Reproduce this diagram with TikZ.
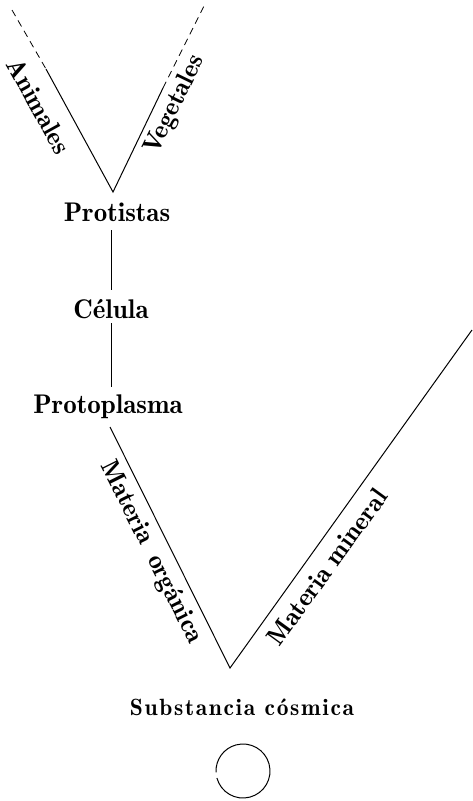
\documentclass[tikz,border=0pt]{standalone}
\usepackage{fontspec}
\newfontfamily\demi{lmromandemi10-regular}[Extension=.otf]
\newfontfamily\demils{lmromandemi10-regular}[Extension=.otf,LetterSpace=7]
\begin{document}
\begin{tikzpicture}[x=1pt,y=1pt,
  lbl/.style={font=\demi\fontsize{27}{30}\selectfont, inner sep=0pt, outer sep=0pt},
  rlbl/.style={font=\demi\fontsize{26}{30}\selectfont, inner sep=0pt},
  arm/.style={line width=1pt},
  farm/.style={line width=0.8pt, dash pattern=on 7pt off 5pt}]
\useasboundingbox (0,0) rectangle (472,-801);
% named points
\coordinate (a0) at (12,-10);
\coordinate (a1) at (46,-69);
\coordinate (b0) at (204,-6);
\coordinate (b1) at (163,-88);
\coordinate (v1) at (113,-192);
\coordinate (m0) at (110,-427);
\coordinate (v2) at (230,-668);
\coordinate (m1) at (472,-330);
\coordinate (c0) at (243,-771);
% main labels
\node[lbl, anchor=base] (prot) at (117,-221) {Protistas};
\node[lbl, anchor=base] (cel) at (111,-318) {Célula};
\node[lbl, anchor=base] (proto) at (108,-413) {Protoplasma};
\node[inner sep=0pt, anchor=base, font=\demils\fontsize{23.5}{28}\selectfont] (subs) at (242,-715) {Substancia cósmica};
% rotated labels
\node[rlbl, rotate=-61] (anim) at (39,-106) {Animales};
\node[rlbl, rotate=64] (veg) at (175,-105) {Vegetales};
\node[rlbl, rotate=-63.5] (morg) at (151,-552) {Materia\hspace{0.55em}orgánica};
\node[rlbl, rotate=54] (mmin) at (327,-567) {Materia mineral};
% top V
\draw[farm] (a0) -- (a1);
\draw[arm] (a1) -- (v1) -- (b1);
\draw[farm] (b1) -- (b0);
% stem
\draw[arm] ([yshift=-9pt]prot.base -| cel.north) -- ([yshift=28pt]cel.base);
\draw[arm] ([yshift=-5pt]cel.base) -- ([yshift=26pt]proto.base -| cel.south);
% bottom V
\draw[arm] (m0) -- (v2) -- (m1);
% circle
\draw[line width=1pt] ([shift={(195:27)}]c0) arc[start angle=195, end angle=543, radius=27];
\end{tikzpicture}
\end{document}
